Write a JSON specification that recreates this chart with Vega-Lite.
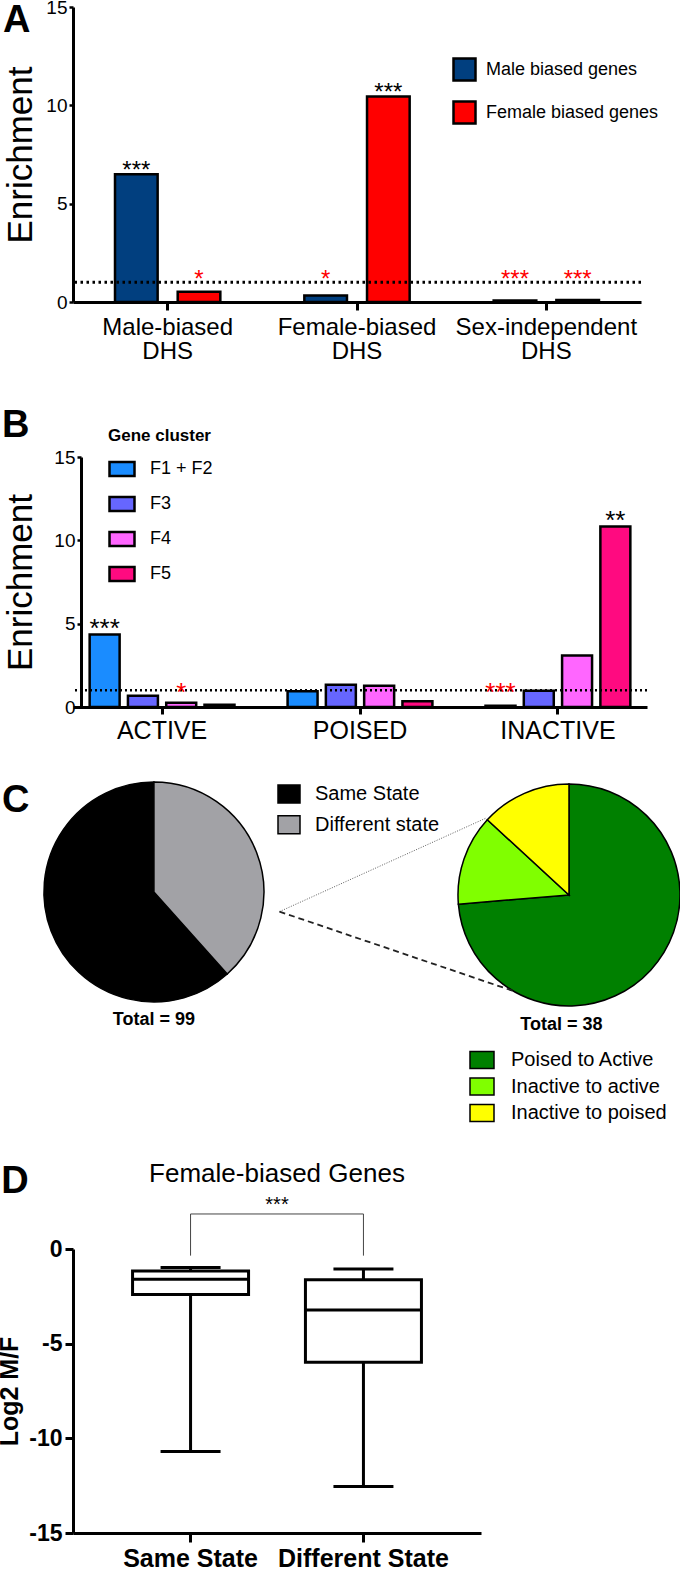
{
  "$schema": "https://vega.github.io/schema/vega-lite/v6.json",
  "autosize": {"type": "none"},
  "padding": {"left": 73, "top": 7, "right": 607, "bottom": 1565},
  "background": "white",
  "config": {
    "font": "Liberation Sans",
    "view": {"stroke": null},
    "axis": {"grid": false, "domainColor": "black", "tickColor": "black", "labelColor": "black", "titleColor": "black"},
    "legend": {"labelColor": "black", "titleColor": "black", "labelLimit": 0},
    "title": {"color": "black", "subtitleColor": "black"}
  },
  "resolve": {"scale": {"color": "independent", "fill": "independent", "theta": "independent", "xOffset": "independent"}, "legend": {"color": "independent", "fill": "independent"}},
  "spacing": 155,
  "bounds": "flush",
  "vconcat": [
    {
      "width": 568,
      "height": 295,
      "title": {"text": "A", "anchor": "start", "frame": "group", "fontSize": 38, "fontWeight": "bold", "dx": -70, "offset": 0, "dy": 72, "baseline": "alphabetic"},
      "data": {"values": [
        {"dhs": "Male-biased DHS", "genes": "Male biased genes", "enrichment": 6.5, "stars": "***"},
        {"dhs": "Male-biased DHS", "genes": "Female biased genes", "enrichment": 0.52, "stars": "*"},
        {"dhs": "Female-biased DHS", "genes": "Male biased genes", "enrichment": 0.33, "stars": "*"},
        {"dhs": "Female-biased DHS", "genes": "Female biased genes", "enrichment": 10.45, "stars": "***"},
        {"dhs": "Sex-independent DHS", "genes": "Male biased genes", "enrichment": 0.08, "stars": "***"},
        {"dhs": "Sex-independent DHS", "genes": "Female biased genes", "enrichment": 0.1, "stars": "***"}
      ]},
      "layer": [
        {
          "mark": {"type": "bar", "stroke": "black", "strokeWidth": 2.5, "opacity": 1},
          "encoding": {
            "x": {"field": "dhs", "type": "nominal", "sort": ["Male-biased DHS", "Female-biased DHS", "Sex-independent DHS"], "scale": {"paddingInner": 0, "paddingOuter": 0},
              "axis": {"title": null, "labelAngle": 0, "labelFontSize": 24, "labelLimit": 0, "labelExpr": "split(datum.label, ' ')", "labelLineHeight": 24, "domainWidth": 3, "tickWidth": 3, "tickSize": 8, "labelPadding": 5}},
            "xOffset": {"field": "genes", "type": "nominal", "sort": ["Male biased genes", "Female biased genes"], "scale": {"paddingInner": 0.32, "paddingOuter": 0.67}},
            "y": {"field": "enrichment", "type": "quantitative", "scale": {"domain": [0, 15], "nice": false},
              "axis": {"title": "Enrichment", "titleFontSize": 35, "titleFontWeight": "normal", "titlePadding": 7, "values": [0, 5, 10, 15], "labelFontSize": 19, "domainWidth": 3, "tickWidth": 2.5, "tickSize": 4, "labelPadding": 2}},
            "fill": {"field": "genes", "type": "nominal", "scale": {"domain": ["Male biased genes", "Female biased genes"], "range": ["#013f7f", "#ff0000"]},
              "legend": {"title": null, "orient": "none", "legendX": 379, "legendY": 50, "symbolType": "square", "symbolSize": 484, "symbolStrokeColor": "black", "symbolStrokeWidth": 2.5, "symbolOpacity": 1, "labelFontSize": 18, "labelLimit": 0, "labelOffset": 9, "rowPadding": 10}}
          }
        },
        {
          "data": {"values": [{"reference": 1}]},
          "mark": {"type": "rule", "strokeDash": [2.5, 3.5], "strokeWidth": 3, "color": "black"},
          "encoding": {
            "y": {"field": "reference", "type": "quantitative", "scale": {"domain": [0, 15], "nice": false},
              "axis": {"title": "Enrichment", "titleFontSize": 35, "titleFontWeight": "normal", "titlePadding": 7, "values": [0, 5, 10, 15], "labelFontSize": 19, "domainWidth": 3, "tickWidth": 2.5, "tickSize": 4, "labelPadding": 2}}
          }
        },
        {
          "transform": [{"filter": "datum.enrichment >= 1"}],
          "mark": {"type": "text", "fontSize": 24, "baseline": "alphabetic", "dy": 4, "color": "black"},
          "encoding": {
            "x": {"field": "dhs", "type": "nominal", "sort": ["Male-biased DHS", "Female-biased DHS", "Sex-independent DHS"]},
            "xOffset": {"field": "genes", "type": "nominal", "sort": ["Male biased genes", "Female biased genes"]},
            "y": {"field": "enrichment", "type": "quantitative"},
            "text": {"field": "stars"}
          }
        },
        {
          "transform": [{"filter": "datum.enrichment < 1"}, {"calculate": "1", "as": "threshold"}],
          "mark": {"type": "text", "fontSize": 24, "baseline": "alphabetic", "dy": 5, "color": "#ff0000"},
          "encoding": {
            "x": {"field": "dhs", "type": "nominal", "sort": ["Male-biased DHS", "Female-biased DHS", "Sex-independent DHS"]},
            "xOffset": {"field": "genes", "type": "nominal", "sort": ["Male biased genes", "Female biased genes"]},
            "y": {"field": "threshold", "type": "quantitative"},
            "text": {"field": "stars"}
          }
        }
      ]
    },
    {
      "width": 574,
      "height": 250,
      "title": {"text": "B", "anchor": "start", "frame": "group", "fontSize": 38, "fontWeight": "bold", "dx": -71, "offset": 0, "dy": 47, "baseline": "alphabetic"},
      "data": {"values": [
        {"state": "ACTIVE", "cluster": "F1 + F2", "enrichment": 4.35, "stars": "***"},
        {"state": "ACTIVE", "cluster": "F3", "enrichment": 0.67, "stars": ""},
        {"state": "ACTIVE", "cluster": "F4", "enrichment": 0.26, "stars": "*"},
        {"state": "ACTIVE", "cluster": "F5", "enrichment": 0.13, "stars": ""},
        {"state": "POISED", "cluster": "F1 + F2", "enrichment": 0.95, "stars": ""},
        {"state": "POISED", "cluster": "F3", "enrichment": 1.33, "stars": ""},
        {"state": "POISED", "cluster": "F4", "enrichment": 1.27, "stars": ""},
        {"state": "POISED", "cluster": "F5", "enrichment": 0.35, "stars": ""},
        {"state": "INACTIVE", "cluster": "F1 + F2", "enrichment": 0.08, "stars": "***"},
        {"state": "INACTIVE", "cluster": "F3", "enrichment": 0.97, "stars": ""},
        {"state": "INACTIVE", "cluster": "F4", "enrichment": 3.09, "stars": ""},
        {"state": "INACTIVE", "cluster": "F5", "enrichment": 10.83, "stars": "**"}
      ]},
      "layer": [
        {
          "mark": {"type": "bar", "stroke": "black", "strokeWidth": 2.5, "opacity": 1},
          "encoding": {
            "x": {"field": "state", "type": "nominal", "sort": ["ACTIVE", "POISED", "INACTIVE"], "scale": {"paddingInner": 0.1, "paddingOuter": 0},
              "axis": {"title": null, "labelAngle": 0, "labelFontSize": 25, "domainWidth": 3, "tickWidth": 3, "tickSize": 7, "labelPadding": 4}},
            "xOffset": {"field": "cluster", "type": "nominal", "sort": ["F1 + F2", "F3", "F4", "F5"], "scale": {"paddingInner": 0.217, "paddingOuter": 0.435}},
            "y": {"field": "enrichment", "type": "quantitative", "scale": {"domain": [0, 15], "nice": false},
              "axis": {"title": "Enrichment", "titleFontSize": 35, "titleFontWeight": "normal", "titlePadding": 15, "values": [0, 5, 10, 15], "labelFontSize": 19, "domainWidth": 3, "tickWidth": 2.5, "tickSize": 4, "labelPadding": 2, "offset": -8}},
            "fill": {"field": "cluster", "type": "nominal", "scale": {"domain": ["F1 + F2", "F3", "F4", "F5"], "range": ["#1a8cff", "#6666ff", "#ff66ff", "#ff0a80"]},
              "legend": {"title": "Gene cluster", "titleFontSize": 17, "titleFontWeight": "bold", "titlePadding": 10, "orient": "none", "legendX": 35, "legendY": -29, "symbolType": "M-1,-0.56H1V0.56H-1Z", "symbolSize": 625, "symbolStrokeColor": "black", "symbolStrokeWidth": 2.5, "symbolOpacity": 1, "labelFontSize": 18, "labelOffset": 14, "rowPadding": 9}}
          }
        },
        {
          "data": {"values": [{"reference": 1}]},
          "mark": {"type": "rule", "strokeDash": [2, 3], "strokeWidth": 2.5, "color": "black"},
          "encoding": {
            "y": {"field": "reference", "type": "quantitative", "scale": {"domain": [0, 15], "nice": false},
              "axis": {"title": "Enrichment", "titleFontSize": 35, "titleFontWeight": "normal", "titlePadding": 15, "values": [0, 5, 10, 15], "labelFontSize": 19, "domainWidth": 3, "tickWidth": 2.5, "tickSize": 4, "labelPadding": 2, "offset": -8}}
          }
        },
        {
          "transform": [{"filter": "datum.enrichment >= 1 && datum.stars != ''"}],
          "mark": {"type": "text", "fontSize": 26, "baseline": "alphabetic", "dy": 2, "color": "black"},
          "encoding": {
            "x": {"field": "state", "type": "nominal", "sort": ["ACTIVE", "POISED", "INACTIVE"]},
            "xOffset": {"field": "cluster", "type": "nominal", "sort": ["F1 + F2", "F3", "F4", "F5"]},
            "y": {"field": "enrichment", "type": "quantitative"},
            "text": {"field": "stars"}
          }
        },
        {
          "transform": [{"filter": "datum.enrichment < 1 && datum.stars != ''"}, {"calculate": "1", "as": "threshold"}],
          "mark": {"type": "text", "fontSize": 26, "baseline": "alphabetic", "dy": 11, "color": "#ff0000"},
          "encoding": {
            "x": {"field": "state", "type": "nominal", "sort": ["ACTIVE", "POISED", "INACTIVE"]},
            "xOffset": {"field": "cluster", "type": "nominal", "sort": ["F1 + F2", "F3", "F4", "F5"]},
            "y": {"field": "threshold", "type": "quantitative"},
            "text": {"field": "stars"}
          }
        }
      ]
    },
    {
      "width": 607,
      "height": 232,
      "title": {"text": "C", "anchor": "start", "frame": "group", "fontSize": 38, "fontWeight": "bold", "dx": -71, "offset": 0, "dy": 71, "baseline": "alphabetic"},
      "resolve": {"scale": {"color": "independent", "theta": "independent"}, "legend": {"color": "independent"}},
      "layer": [
        {
          "data": {"values": [
            {"state": "Same State", "genes": 61},
            {"state": "Different state", "genes": 38}
          ]},
          "mark": {"type": "arc", "outerRadius": 110, "stroke": "black", "strokeWidth": 1.5},
          "encoding": {
            "x": {"datum": -3.739, "type": "quantitative", "scale": {"domain": [-4.468, 1.0], "nice": false, "zero": false}, "axis": null},
            "y": {"datum": 0.027, "type": "quantitative", "scale": {"domain": [-1.793, 0.297], "nice": false, "zero": false}, "axis": null},
            "theta": {"field": "genes", "type": "quantitative", "stack": true},
            "order": {"field": "genes", "type": "quantitative", "sort": "ascending"},
            "color": {"field": "state", "type": "nominal", "scale": {"domain": ["Same State", "Different state"], "range": ["#000000", "#a2a2a6"]},
              "legend": {"title": null, "orient": "none", "legendX": 204, "legendY": -80, "symbolType": "M-1,-0.82H1V0.82H-1Z", "symbolSize": 484, "symbolStrokeColor": "black", "symbolStrokeWidth": 1.5, "labelFontSize": 20, "labelOffset": 14, "rowPadding": 4.7}}
          }
        },
        {
          "data": {"values": [
            {"state": "Same State", "genes": 61},
            {"state": "Different state", "genes": 38}
          ]},
          "transform": [{"aggregate": [{"op": "sum", "field": "genes", "as": "total"}]}, {"calculate": "'Total = ' + datum.total", "as": "label"}],
          "mark": {"type": "text", "fontSize": 18, "fontWeight": "bold", "baseline": "middle", "align": "center", "color": "black"},
          "encoding": {
            "x": {"datum": -3.739, "type": "quantitative", "axis": null},
            "y": {"datum": -1.126, "type": "quantitative", "axis": null},
            "text": {"field": "label"}
          }
        },
        {
          "data": {"values": [
            {"transition": "Poised to Active", "genes": 28},
            {"transition": "Inactive to active", "genes": 5},
            {"transition": "Inactive to poised", "genes": 5}
          ]},
          "transform": [{"calculate": "indexof(['Poised to Active', 'Inactive to active', 'Inactive to poised'], datum.transition)", "as": "slice_order"}],
          "mark": {"type": "arc", "outerRadius": 111, "stroke": "black", "strokeWidth": 1.5},
          "encoding": {
            "x": {"datum": 0, "type": "quantitative", "axis": null},
            "y": {"datum": 0, "type": "quantitative", "axis": null},
            "theta": {"field": "genes", "type": "quantitative", "stack": true},
            "order": {"field": "slice_order", "type": "quantitative", "sort": "ascending"},
            "color": {"field": "transition", "type": "nominal", "scale": {"domain": ["Poised to Active", "Inactive to active", "Inactive to poised"], "range": ["#008000", "#80ff00", "#ffff00"]},
              "legend": {"title": null, "orient": "none", "legendX": 396, "legendY": 185, "symbolType": "M-1,-0.7H1V0.7H-1Z", "symbolSize": 576, "symbolStrokeColor": "black", "symbolStrokeWidth": 1.5, "labelFontSize": 20, "labelOffset": 16, "rowPadding": 1.5}}
          }
        },
        {
          "data": {"values": [
            {"transition": "Poised to Active", "genes": 28},
            {"transition": "Inactive to active", "genes": 5},
            {"transition": "Inactive to poised", "genes": 5}
          ]},
          "transform": [{"aggregate": [{"op": "sum", "field": "genes", "as": "total"}]}, {"calculate": "'Total = ' + datum.total", "as": "label"}],
          "mark": {"type": "text", "fontSize": 18, "fontWeight": "bold", "baseline": "middle", "align": "center", "color": "black"},
          "encoding": {
            "x": {"datum": -0.068, "type": "quantitative", "axis": null},
            "y": {"datum": -1.171, "type": "quantitative", "axis": null},
            "text": {"field": "label"}
          }
        },
        {
          "data": {"values": [
            {"edge": "upper", "x": -2.608, "y": -0.15, "x2": -0.751, "y2": 0.691},
            {"edge": "lower", "x": -2.608, "y": -0.15, "x2": -0.484, "y2": -0.871}
          ]},
          "transform": [{"filter": "datum.edge == 'upper'"}],
          "mark": {"type": "rule", "strokeDash": [1, 1.5], "strokeWidth": 0.8, "color": "#333333"},
          "encoding": {
            "x": {"field": "x", "type": "quantitative", "axis": null},
            "y": {"field": "y", "type": "quantitative", "axis": null},
            "x2": {"field": "x2"},
            "y2": {"field": "y2"}
          }
        },
        {
          "data": {"values": [
            {"edge": "upper", "x": -2.608, "y": -0.15, "x2": -0.751, "y2": 0.691},
            {"edge": "lower", "x": -2.608, "y": -0.15, "x2": -0.484, "y2": -0.871}
          ]},
          "transform": [{"filter": "datum.edge == 'lower'"}],
          "mark": {"type": "rule", "strokeDash": [6, 4], "strokeWidth": 1.8, "color": "#222222"},
          "encoding": {
            "x": {"field": "x", "type": "quantitative", "axis": null},
            "y": {"field": "y", "type": "quantitative", "axis": null},
            "x2": {"field": "x2"},
            "y2": {"field": "y2"}
          }
        },
        {
          "data": {"values": [{"panel": "D"}]},
          "mark": {"type": "text", "fontSize": 38, "fontWeight": "bold", "baseline": "alphabetic", "align": "left", "color": "black"},
          "encoding": {
            "x": {"datum": -5.115, "type": "quantitative", "axis": null},
            "y": {"datum": -2.685, "type": "quantitative", "axis": null},
            "text": {"field": "panel"}
          }
        }
      ]
    },
    {
      "width": 408,
      "height": 284,
      "title": {"text": "Female-biased Genes", "subtitle": "***", "anchor": "middle", "frame": "group", "fontSize": 26, "fontWeight": "normal", "subtitleFontSize": 20, "subtitlePadding": 8, "offset": -2},
      "data": {"values": [
        {"state": "Same State", "lower": -10.7, "q1": -2.4, "median": -1.6, "q3": -1.16, "upper": -0.98},
        {"state": "Different State", "lower": -12.55, "q1": -5.98, "median": -3.22, "q3": -1.62, "upper": -1.05}
      ]},
      "layer": [
        {
          "mark": {"type": "rule", "strokeWidth": 3, "color": "black"},
          "encoding": {
            "x": {"field": "state", "type": "nominal", "sort": ["Same State", "Different State"], "scale": {"domain": ["Same State", "Different State"], "paddingInner": 0, "paddingOuter": 0.18},
              "axis": {"title": null, "labelAngle": 0, "labelFontSize": 25, "labelFontWeight": "bold", "domainWidth": 3, "tickWidth": 3, "tickSize": 9, "labelPadding": 4}},
            "y": {"field": "lower", "type": "quantitative", "scale": {"domain": [-15, 0], "nice": false, "zero": false},
              "axis": {"title": "Log2 M/F", "titleFontSize": 25, "titleFontWeight": "bold", "titlePadding": 6, "values": [0, -5, -10, -15], "labelExpr": "toString(datum.value)", "labelFontSize": 23, "labelFontWeight": "bold", "domainWidth": 3, "tickWidth": 3, "tickSize": 8, "labelPadding": 3}},
            "y2": {"field": "q1"}
          }
        },
        {
          "mark": {"type": "rule", "strokeWidth": 3, "color": "black"},
          "encoding": {
            "x": {"field": "state", "type": "nominal", "sort": ["Same State", "Different State"]},
            "y": {"field": "q3", "type": "quantitative",
              "axis": {"title": "Log2 M/F", "titleFontSize": 25, "titleFontWeight": "bold", "titlePadding": 6, "values": [0, -5, -10, -15], "labelExpr": "toString(datum.value)", "labelFontSize": 23, "labelFontWeight": "bold", "domainWidth": 3, "tickWidth": 3, "tickSize": 8, "labelPadding": 3}},
            "y2": {"field": "upper"}
          }
        },
        {
          "mark": {"type": "bar", "size": 116, "fill": "white", "stroke": "black", "strokeWidth": 3},
          "encoding": {
            "x": {"field": "state", "type": "nominal", "sort": ["Same State", "Different State"]},
            "y": {"field": "q1", "type": "quantitative",
              "axis": {"title": "Log2 M/F", "titleFontSize": 25, "titleFontWeight": "bold", "titlePadding": 6, "values": [0, -5, -10, -15], "labelExpr": "toString(datum.value)", "labelFontSize": 23, "labelFontWeight": "bold", "domainWidth": 3, "tickWidth": 3, "tickSize": 8, "labelPadding": 3}},
            "y2": {"field": "q3"}
          }
        },
        {
          "mark": {"type": "tick", "size": 116, "thickness": 3, "color": "black", "opacity": 1},
          "encoding": {
            "x": {"field": "state", "type": "nominal", "sort": ["Same State", "Different State"]},
            "y": {"field": "median", "type": "quantitative",
              "axis": {"title": "Log2 M/F", "titleFontSize": 25, "titleFontWeight": "bold", "titlePadding": 6, "values": [0, -5, -10, -15], "labelExpr": "toString(datum.value)", "labelFontSize": 23, "labelFontWeight": "bold", "domainWidth": 3, "tickWidth": 3, "tickSize": 8, "labelPadding": 3}}
          }
        },
        {
          "mark": {"type": "tick", "size": 60, "thickness": 3, "color": "black", "opacity": 1},
          "encoding": {
            "x": {"field": "state", "type": "nominal", "sort": ["Same State", "Different State"]},
            "y": {"field": "lower", "type": "quantitative",
              "axis": {"title": "Log2 M/F", "titleFontSize": 25, "titleFontWeight": "bold", "titlePadding": 6, "values": [0, -5, -10, -15], "labelExpr": "toString(datum.value)", "labelFontSize": 23, "labelFontWeight": "bold", "domainWidth": 3, "tickWidth": 3, "tickSize": 8, "labelPadding": 3}}
          }
        },
        {
          "mark": {"type": "tick", "size": 60, "thickness": 3, "color": "black", "opacity": 1},
          "encoding": {
            "x": {"field": "state", "type": "nominal", "sort": ["Same State", "Different State"]},
            "y": {"field": "upper", "type": "quantitative",
              "axis": {"title": "Log2 M/F", "titleFontSize": 25, "titleFontWeight": "bold", "titlePadding": 6, "values": [0, -5, -10, -15], "labelExpr": "toString(datum.value)", "labelFontSize": 23, "labelFontWeight": "bold", "domainWidth": 3, "tickWidth": 3, "tickSize": 8, "labelPadding": 3}}
          }
        },
        {
          "data": {"values": [{"from": "Same State", "to": "Different State", "top": 1.85, "bottom": -0.35}]},
          "mark": {"type": "rule", "strokeWidth": 1, "color": "#444444"},
          "encoding": {
            "x": {"field": "from", "type": "nominal", "sort": ["Same State", "Different State"]},
            "x2": {"field": "to"},
            "y": {"field": "top", "type": "quantitative",
              "axis": {"title": "Log2 M/F", "titleFontSize": 25, "titleFontWeight": "bold", "titlePadding": 6, "values": [0, -5, -10, -15], "labelExpr": "toString(datum.value)", "labelFontSize": 23, "labelFontWeight": "bold", "domainWidth": 3, "tickWidth": 3, "tickSize": 8, "labelPadding": 3}}
          }
        },
        {
          "data": {"values": [{"from": "Same State", "to": "Different State", "top": 1.85, "bottom": -0.35}]},
          "mark": {"type": "rule", "strokeWidth": 1, "color": "#444444"},
          "encoding": {
            "x": {"field": "from", "type": "nominal", "sort": ["Same State", "Different State"]},
            "y": {"field": "top", "type": "quantitative",
              "axis": {"title": "Log2 M/F", "titleFontSize": 25, "titleFontWeight": "bold", "titlePadding": 6, "values": [0, -5, -10, -15], "labelExpr": "toString(datum.value)", "labelFontSize": 23, "labelFontWeight": "bold", "domainWidth": 3, "tickWidth": 3, "tickSize": 8, "labelPadding": 3}},
            "y2": {"field": "bottom"}
          }
        },
        {
          "data": {"values": [{"from": "Same State", "to": "Different State", "top": 1.85, "bottom": -0.35}]},
          "mark": {"type": "rule", "strokeWidth": 1, "color": "#444444"},
          "encoding": {
            "x": {"field": "to", "type": "nominal", "sort": ["Same State", "Different State"]},
            "y": {"field": "top", "type": "quantitative",
              "axis": {"title": "Log2 M/F", "titleFontSize": 25, "titleFontWeight": "bold", "titlePadding": 6, "values": [0, -5, -10, -15], "labelExpr": "toString(datum.value)", "labelFontSize": 23, "labelFontWeight": "bold", "domainWidth": 3, "tickWidth": 3, "tickSize": 8, "labelPadding": 3}},
            "y2": {"field": "bottom"}
          }
        }
      ]
    }
  ]
}
